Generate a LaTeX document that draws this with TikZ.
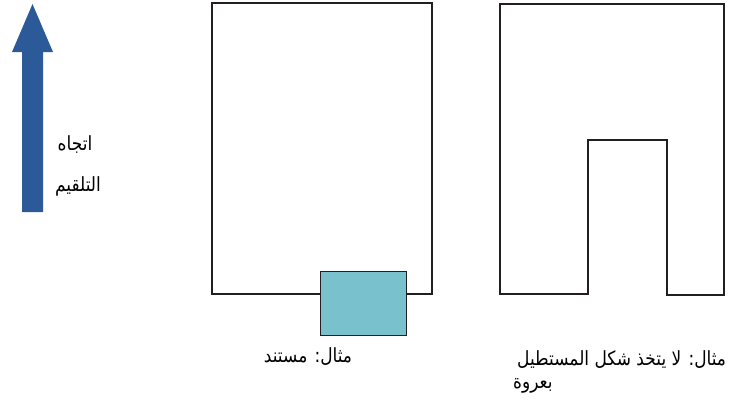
\documentclass[tikz,border=0pt]{standalone}
\usepackage{fontspec}
\setmainfont{Liberation Sans}
\newfontfamily\arabicfont[Script=Arabic]{DejaVu Sans}
\TeXXeTstate=1
\definecolor{feedblue}{RGB}{44,90,152}
\definecolor{docteal}{RGB}{120,193,205}
\definecolor{edgegray}{RGB}{35,31,32}
\newcommand{\tallar}[1]{\scalebox{1}[1.15]{\beginR #1\endR}}
\tikzset{
    outline/.style={draw=edgegray, line width=2pt},
    docbox/.style={draw=edgegray, line width=1pt, fill=docteal, minimum width=86pt, minimum height=64pt, inner sep=0pt},
    arabtext/.style={inner sep=0pt, font=\arabicfont\fontsize{17}{20}\selectfont}
}

\begin{document}
\begin{tikzpicture}[x=1pt, y=-1pt]
    \useasboundingbox (0,0) rectangle (756,405);
    % feed direction
    \fill[feedblue] (22,212) -- (22,52) -- (12,52) -- (32.5,4) -- (53,52) -- (43,52) -- (43,212) -- cycle;
    \node[arabtext] (dirtop) at (75,145) {\tallar{اتجاه}};
    \node[arabtext] (dirbottom) at (78,186) {\tallar{التلقيم}};

    % document example
    \draw[outline] (212,294) -- (212,3) -- (432,3) -- (432,294) -- cycle;
    \node[docbox] (doc) at (363,303) {};
    \node[arabtext] (doccaption) at (308,357) {\tallar{مثال: مستند}};

    % non-rectangular example
    \draw[outline] (588,294) -- (500,294) -- (500,4) -- (724,4) -- (724,295) -- (667,295) -- (667,140) -- (588,140) -- cycle;
    \node[arabtext, anchor=west] (loopcaption) at (517,360) {\tallar{مثال: لا يتخذ شكل المستطيل}};
    \node[arabtext, anchor=west] (loopcaptionb) at (513,386) {\tallar{بعروة}};
\end{tikzpicture}
\end{document}
